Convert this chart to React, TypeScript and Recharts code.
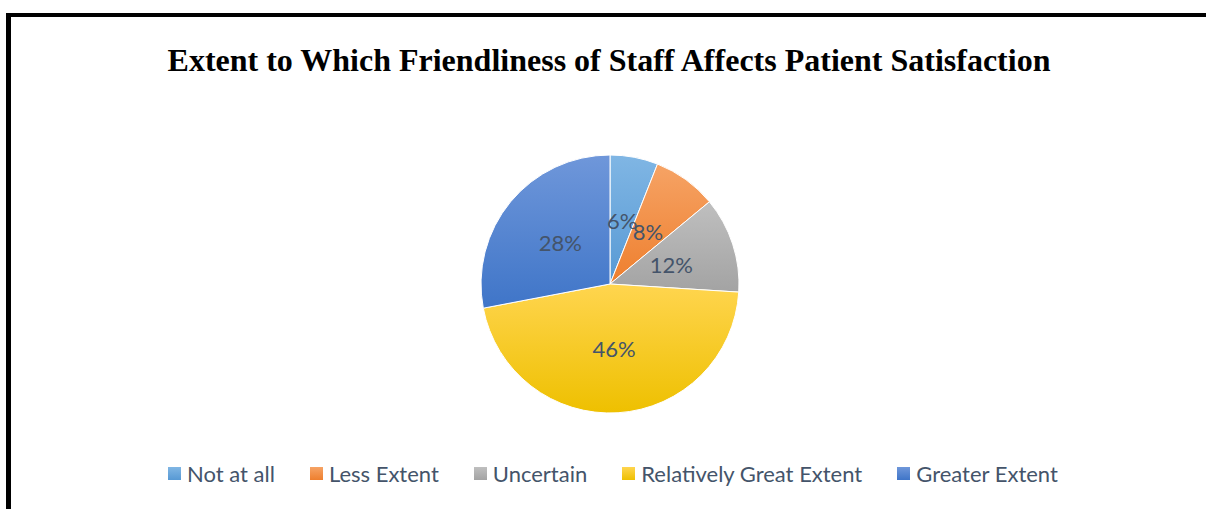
import { PieChart, Pie, Cell, Legend } from 'recharts';

const categories = ['Not at all', 'Less Extent', 'Uncertain', 'Relatively Great Extent', 'Greater Extent'];
const percents = [6, 8, 12, 46, 28];

// light top -> darker bottom, like the office gradient style
const gradTop = ['#80B6E4', '#F6A365', '#BFBFBF', '#FFD54F', '#6F97DA'];
const gradBottom = ['#5799D4', '#EE7F2E', '#A3A3A3', '#EEC000', '#3F75C8'];

const data = categories.map((name, i) => ({ name, value: percents[i] }));

const TEXT = '#44546A';
const FONT = 'Lato, "Open Sans", sans-serif';
const RAD = Math.PI / 180;

// eslint-disable-next-line @typescript-eslint/no-explicit-any
const renderLabel = (props: any) => {
  const { cx, cy, midAngle, outerRadius, value } = props;
  const r = outerRadius * 0.5;
  const x = cx + r * Math.cos(-midAngle * RAD);
  const y = cy + r * Math.sin(-midAngle * RAD);
  return (
    <text x={x} y={y} fill={TEXT} fontSize={22} fontFamily={FONT}
      textAnchor="middle" dominantBaseline="central">
      {`${value}%`}
    </text>
  );
};

// eslint-disable-next-line @typescript-eslint/no-explicit-any
const renderLegend = (props: any) => {
  // keep the data order rather than the legend's default sort
  // eslint-disable-next-line @typescript-eslint/no-explicit-any
  const payload = [...(props.payload || [])].sort((a: any, b: any) =>
    categories.indexOf(a.value) - categories.indexOf(b.value));
  return (
    <div style={{ display: 'flex', alignItems: 'center', fontFamily: FONT, fontSize: 22, color: TEXT, whiteSpace: 'nowrap' }}>
      {/* eslint-disable-next-line @typescript-eslint/no-explicit-any */}
      {payload.map((entry: any) => (
        <div key={entry.value} style={{ display: 'flex', alignItems: 'center', marginRight: 35 }}>
          <svg width={13} height={13} style={{ marginRight: 6 }}>
            <rect width={13} height={13} fill={`url(#grad${categories.indexOf(entry.value)})`} />
          </svg>
          <span>{entry.value}</span>
        </div>
      ))}
    </div>
  );
};

export default function App() {
  return (
    <div style={{ position: 'absolute', left: 0, top: 0, width: 1206, height: 509, background: '#fff', overflow: 'hidden' }}>
      <div style={{
        position: 'absolute', left: 6, top: 13, width: 1300, height: 600,
        borderLeft: '5px solid #000', borderTop: '4px solid #000', boxSizing: 'border-box'
      }} />
      <div style={{
        position: 'absolute', left: 0, top: 41, width: 1218, textAlign: 'center',
        fontFamily: '"Liberation Serif", "Times New Roman", serif', fontWeight: 'bold', fontSize: 32, color: '#000', lineHeight: '38px'
      }}>
        Extent to Which Friendliness of Staff Affects Patient Satisfaction
      </div>
      <PieChart width={1206} height={509} margin={{ top: 0, right: 0, bottom: 0, left: 0 }}
        style={{ position: 'absolute', left: 0, top: 0 }}>
        <defs>
          {gradTop.map((c, i) => (
            <linearGradient key={i} id={`grad${i}`} x1="0" y1="0" x2="0" y2="1">
              <stop offset="0%" stopColor={c} />
              <stop offset="100%" stopColor={gradBottom[i]} />
            </linearGradient>
          ))}
        </defs>
        <Pie
          data={data}
          dataKey="value"
          nameKey="name"
          cx={610}
          cy={284}
          outerRadius={129}
          startAngle={90}
          endAngle={-270}
          stroke="#fff"
          strokeWidth={1}
          label={renderLabel}
          labelLine={false}
          isAnimationActive={false}
        >
          {data.map((d, i) => (
            <Cell key={d.name} fill={`url(#grad${i})`} />
          ))}
        </Pie>
        <Legend content={renderLegend} wrapperStyle={{ position: 'absolute', left: 168, top: 460, width: 'auto' }} />
      </PieChart>
    </div>
  );
}
